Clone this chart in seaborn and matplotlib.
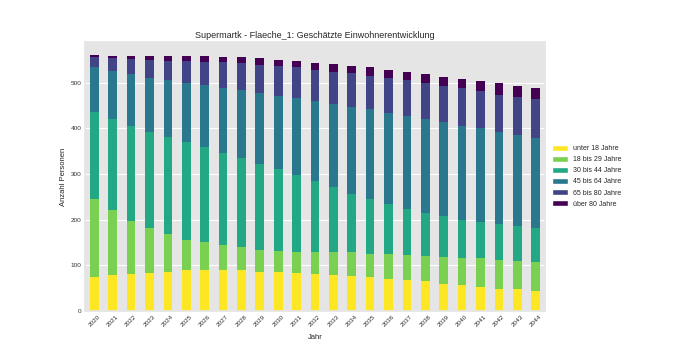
import matplotlib
matplotlib.use("Agg")
import matplotlib.pyplot as plt
from matplotlib.patches import Patch
import seaborn as sns
import numpy as np
import pandas as pd

years = [str(y) for y in range(2020, 2045)]
categories = ["unter 18 Jahre", "18 bis 29 Jahre", "30 bis 44 Jahre",
              "45 bis 64 Jahre", "65 bis 80 Jahre", "über 80 Jahre"]
unter18 = [75, 78, 81, 84, 86, 89, 89, 89, 89, 86, 86, 84, 81, 79, 77, 75, 71, 68, 64.5, 60, 57, 53, 49, 47, 44]
j18_29 = [169, 142, 117, 97, 82, 67, 61, 55, 50, 48, 46, 46, 49, 49, 51, 50, 53, 54.5, 55.5, 59, 59.5, 62, 63, 63, 64]
j30_44 = [192, 201, 207, 211, 212, 213, 208, 202, 196, 187, 178, 167, 154, 142.5, 129, 121, 110, 100.5, 95, 88, 83.5, 79, 79, 75, 74.5]
j45_64 = [98, 105, 113, 119, 125, 130, 137, 142, 149, 156, 161, 169, 176, 182.5, 190, 196, 200, 204, 205, 206, 205, 206, 201, 200, 196.5]
j65_80 = [22, 28, 34, 39, 43, 49, 50, 56, 58, 62, 66, 67, 68, 71, 73, 73, 76, 78, 79, 80, 82, 82, 81.5, 83, 84]
ueber80 = [5, 5, 6, 8, 10, 10, 13, 12, 14, 14, 13, 14, 15, 16, 17, 18, 18.5, 18, 19, 20, 20, 21, 24.5, 25, 24.5]

series = [unter18, j18_29, j30_44, j45_64, j65_80, ueber80]
colors = ["#FDE725", "#7AD151", "#22A884", "#2A788E", "#414487", "#440154"]

sns.set_theme(style="darkgrid", rc={
    "axes.facecolor": "#E5E5E5",
    "grid.color": "white",
    "grid.linewidth": 0.8,
    "axes.edgecolor": "#E5E5E5",
})
plt.rcParams["font.family"] = ["Liberation Sans", "DejaVu Sans"]

fig = plt.figure(figsize=(6.81, 3.49), dpi=100)
ax = fig.add_axes([0.125, 0.109, 0.675, 0.771])

cum = np.cumsum(np.array(series, dtype=float), axis=0)
df = pd.DataFrame({"Jahr": years})
for i in range(len(categories) - 1, -1, -1):
    df["v"] = cum[i]
    sns.barplot(data=df, x="Jahr", y="v", color=colors[i], width=0.47,
                saturation=1, ax=ax, linewidth=0)

ax.set_ylim(0, 589)
ax.set_xlim(-0.5, len(years) - 0.5)
ax.set_yticks([0, 100, 200, 300, 400, 500])
ax.grid(axis="x", visible=False)
ax.tick_params(axis="both", length=0, labelsize=4.6, colors="#333333", pad=2.5)
plt.setp(ax.get_xticklabels(), rotation=45, ha="center", rotation_mode="default")
ax.set_xlabel("Jahr", fontsize=5.5, labelpad=4)
ax.set_ylabel("Anzahl Personen", fontsize=5.5, labelpad=3)
ax.set_title("Supermartk - Flaeche_1: Geschätzte Einwohnerentwicklung", fontsize=6.5, pad=3)

handles = [Patch(facecolor=c, label=l) for c, l in zip(colors, categories)]
leg = fig.legend(handles=handles, loc="center left", bbox_to_anchor=(0.802, 0.495),
                 frameon=False, fontsize=5, handlelength=2.2, handleheight=0.9,
                 labelspacing=0.55)

fig.savefig("out.png", dpi=100)
